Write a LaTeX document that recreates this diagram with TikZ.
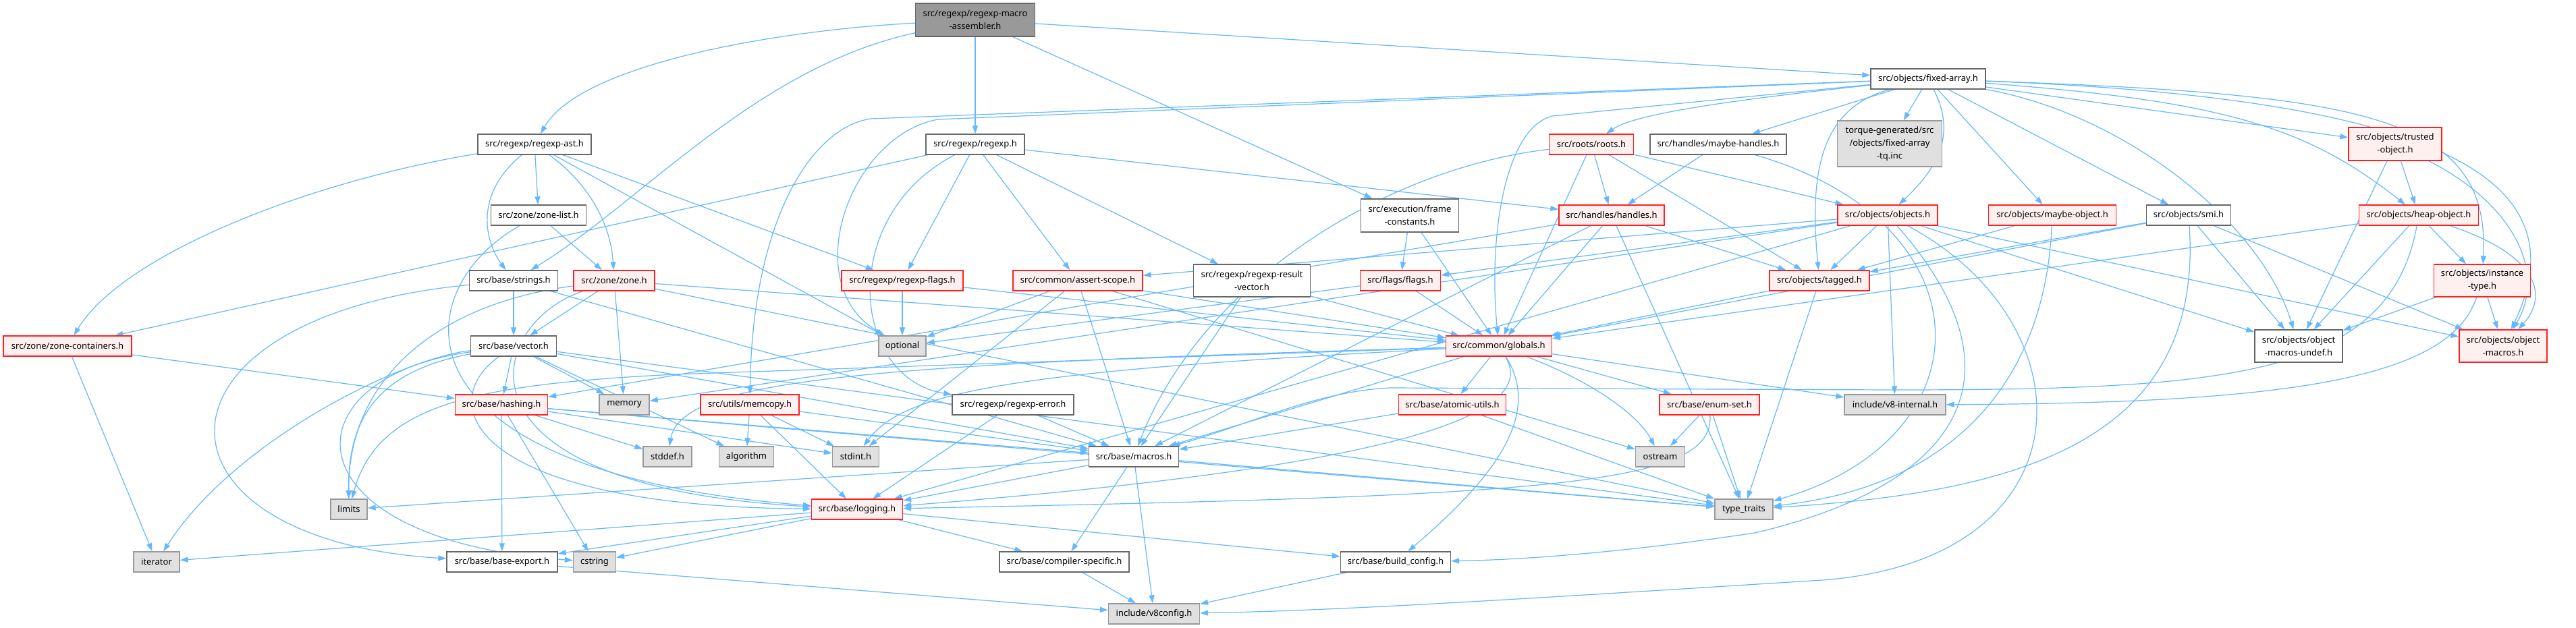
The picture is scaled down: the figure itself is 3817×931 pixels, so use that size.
\documentclass[tikz,border=0pt]{standalone}
\usepackage{fontspec}
\newfontfamily\notos{Noto Sans}
\usetikzlibrary{arrows.meta}
\definecolor{edgeblue}{HTML}{63B8FF}
\definecolor{ndred}{HTML}{FF2020}
\definecolor{ndpink}{HTML}{FFF0F0}
\definecolor{ndgray}{HTML}{666666}
\definecolor{ndgraybd}{HTML}{999999}
\definecolor{ndgrayfill}{HTML}{E0E0E0}
\definecolor{ndroot}{HTML}{999999}
\pgfdeclarelayer{bg}
\pgfdeclarelayer{paper}
\pgfsetlayers{paper,bg,main}
\tikzset{
  nd/.style={draw=ndgray, fill=white, line width=1.3pt, minimum height=30pt, inner sep=0pt, align=center, font={\notos\fontsize{13}{19}\selectfont}},
  redn/.style={nd, draw=ndred, fill=ndpink},
  grayn/.style={nd, draw=ndgraybd, fill=ndgrayfill},
  rootn/.style={nd, draw=ndgray, fill=ndroot},
  edge/.style={draw=edgeblue, line width=1.2pt, -{Triangle[length=12pt,width=8pt]}},
}
\begin{document}
\begin{tikzpicture}[x=1pt,y=1pt]
\begin{pgfonlayer}{paper}
\fill[white] (0,0) rectangle (3817,-931);
\end{pgfonlayer}
\useasboundingbox (0,0) rectangle (3817,-931);
% nodes
\node[rootn, minimum width=177pt, minimum height=49pt] (ma) at (1445,-29.5) {src/regexp/regexp-macro\\-assembler.h};
\node[nd, minimum width=168pt] (ast) at (792,-214) {src/regexp/regexp-ast.h};
\node[nd, minimum width=146pt] (regexp) at (1445,-214) {src/regexp/regexp.h};
\node[nd, minimum width=170pt] (fixed) at (2857,-117) {src/objects/fixed-array.h};
\node[redn, minimum width=125pt] (roots) at (2358,-214) {src/roots/roots.h};
\node[nd, minimum width=202pt] (mh) at (2546,-214) {src/handles/maybe-handles.h};
\node[grayn, minimum width=155pt, minimum height=68pt] (torque) at (2800,-213) {torque-generated/src\\/objects/fixed-array\\-tq.inc};
\node[redn, minimum width=138pt, minimum height=49pt] (trusted) at (3549,-213.5) {src/objects/trusted\\-object.h};
\node[nd, minimum width=141pt] (zonelist) at (798,-319) {src/zone/zone-list.h};
\node[nd, minimum width=145pt, minimum height=49pt] (frame) at (2089,-319.5) {src/execution/frame\\-constants.h};
\node[redn, minimum width=156pt] (handles) at (2388,-319) {src/handles/handles.h};
\node[redn, minimum width=148pt] (objects) at (2797,-319) {src/objects/objects.h};
\node[redn, minimum width=189pt] (maybeobj) at (3041,-319) {src/objects/maybe-object.h};
\node[nd, minimum width=125pt] (smi) at (3243,-319) {src/objects/smi.h};
\node[redn, minimum width=177pt] (heapobj) at (3584,-319) {src/objects/heap-object.h};
\node[nd, minimum width=131pt] (strings) at (761,-416) {src/base/strings.h};
\node[redn, minimum width=120pt] (zone) at (910,-416) {src/zone/zone.h};
\node[redn, minimum width=180pt] (rflags) at (1337,-416) {src/regexp/regexp-flags.h};
\node[redn, minimum width=192pt] (assert) at (1597,-416) {src/common/assert-scope.h};
\node[nd, minimum width=173pt, minimum height=48pt] (resvec) at (1855,-416) {src/regexp/regexp-result\\-vector.h};
\node[redn, minimum width=119pt] (flags) at (2075,-416) {src/flags/flags.h};
\node[redn, minimum width=148pt] (tagged) at (2696,-416) {src/objects/tagged.h};
\node[redn, minimum width=143pt, minimum height=48pt] (insttype) at (3678,-416) {src/objects/instance\\-type.h};
\node[redn, minimum width=190pt] (zonecont) at (100,-513) {src/zone/zone-containers.h};
\node[nd, minimum width=127pt] (vector) at (761,-513) {src/base/vector.h};
\node[grayn, minimum width=70pt] (optional) at (1337,-513) {optional};
\node[redn, minimum width=157pt] (globals) at (2221,-513) {src/common/globals.h};
\node[nd, minimum width=130pt, minimum height=48pt] (objundef) at (3406,-513) {src/objects/object\\-macros-undef.h};
\node[redn, minimum width=130pt, minimum height=48pt] (objmacros) at (3709,-513) {src/objects/object\\-macros.h};
\node[redn, minimum width=137pt] (hashing) at (743,-600) {src/base/hashing.h};
\node[grayn, minimum width=74pt] (memory) at (925,-600) {memory};
\node[redn, minimum width=146pt] (memcopy) at (1111,-600) {src/utils/memcopy.h};
\node[nd, minimum width=180pt] (rerror) at (1501,-600) {src/regexp/regexp-error.h};
\node[redn, minimum width=159pt] (atomic) at (2152,-600) {src/base/atomic-utils.h};
\node[redn, minimum width=148pt] (enumset) at (2533,-600) {src/base/enum-set.h};
\node[grayn, minimum width=150pt] (v8int) at (2808,-600) {include/v8-internal.h};
\node[grayn, minimum width=72pt] (stddef) at (989,-677) {stddef.h};
\node[grayn, minimum width=81pt] (algorithm) at (1106,-677) {algorithm};
\node[grayn, minimum width=69pt] (stdint) at (1268,-677) {stdint.h};
\node[nd, minimum width=133pt] (macros) at (1680,-677) {src/base/macros.h};
\node[grayn, minimum width=73pt] (ostream) at (2460,-677) {ostream};
\node[grayn, minimum width=54pt] (limits) at (517,-755) {limits};
\node[redn, minimum width=135pt] (logging) at (1270,-755) {src/base/logging.h};
\node[grayn, minimum width=86pt] (typetraits) at (2584,-755) {type\_traits};
\node[grayn, minimum width=68pt] (iterator) at (232,-833) {iterator};
\node[nd, minimum width=164pt] (baseexport) at (744,-833) {src/base/base-export.h};
\node[grayn, minimum width=63pt] (cstring) at (881,-833) {cstring};
\node[nd, minimum width=192pt] (compiler) at (1577,-833) {src/base/compiler-specific.h};
\node[nd, minimum width=163pt] (buildconfig) at (2068,-833) {src/base/build\_config.h};
\node[grayn, minimum width=135pt] (v8config) at (1710,-910) {include/v8config.h};
% edges
\begin{pgfonlayer}{bg}
\draw[edge] (ma) .. controls (1150,-45) and (860,-95) .. (ast);
\draw[edge] (ma) .. controls (1120,-100) and (950,-300) .. (strings);
\draw[edge] (ma) -- (regexp);
\draw[edge] (ma) -- (fixed);
\draw[edge] (ma) -- (frame);
\draw[edge] (fixed) -- (1290,-176) .. controls (1200,-190) and (1115,-330) .. (memcopy);
\draw[edge] (fixed) -- (1390,-177) .. controls (1260,-200) and (1180,-420) .. (optional);
\draw[edge] (fixed) -- (2300,-172) .. controls (2230,-190) and (2205,-350) .. (globals);
\draw[edge] (fixed) -- (mh);
\draw[edge] (fixed) .. controls (2550,-150) and (2420,-170) .. (roots);
\draw[edge] (fixed) -- (torque);
\draw[edge] (fixed) .. controls (2700,-160) and (2680,-250) .. (tagged);
\draw[edge] (fixed) .. controls (2900,-200) and (2870,-250) .. (objects);
\draw[edge] (fixed) -- (maybeobj);
\draw[edge] (fixed) -- (smi);
\draw[edge] (fixed) -- (trusted);
\draw[edge] (fixed) .. controls (3300,-150) and (3420,-190) .. (heapobj);
\draw[edge] (fixed) .. controls (3500,-140) and (3690,-170) .. (insttype);
\draw[edge] (fixed) .. controls (3600,-145) and (3830,-260) .. (objmacros);
\draw[edge] (fixed) .. controls (3150,-170) and (3350,-330) .. (objundef);
\draw[edge] (ast) .. controls (450,-270) and (180,-380) .. (zonecont);
\draw[edge] (ast) .. controls (700,-290) and (720,-360) .. (strings);
\draw[edge] (ast) -- (zonelist);
\draw[edge] (ast) .. controls (870,-270) and (905,-330) .. (zone);
\draw[edge] (ast) -- (rflags);
\draw[edge] (ast) -- (optional);
\draw[edge] (regexp) -- (zonecont);
\draw[edge] (regexp) .. controls (1240,-320) and (1260,-560) .. (rerror);
\draw[edge] (regexp) -- (rflags);
\draw[edge] (regexp) -- (assert);
\draw[edge] (regexp) -- (resvec);
\draw[edge] (regexp) -- (handles);
\draw[edge] (zonelist) .. controls (600,-430) and (570,-700) .. (logging);
\draw[edge] (zonelist) -- (zone);
\draw[edge] (strings) .. controls (200,-470) and (200,-800) .. (baseexport);
\draw[edge] (strings) -- (vector);
\draw[edge] (strings) -- (macros);
\draw[edge] (zone) .. controls (650,-450) and (515,-560) .. (limits);
\draw[edge] (zone) -- (memory);
\draw[edge] (zone) -- (typetraits);
\draw[edge] (zone) .. controls (720,-480) and (650,-720) .. (logging);
\draw[edge] (zone) -- (vector);
\draw[edge] (zone) -- (globals);
\draw[edge] (zonecont) -- (hashing);
\draw[edge] (zonecont) -- (iterator);
\draw[edge] (vector) -- (algorithm);
\draw[edge] (vector) .. controls (420,-560) and (420,-800) .. (cstring);
\draw[edge] (vector) .. controls (600,-530) and (350,-650) .. (iterator);
\draw[edge] (vector) .. controls (560,-550) and (515,-620) .. (limits);
\draw[edge] (vector) -- (memory);
\draw[edge] (vector) -- (typetraits);
\draw[edge] (vector) -- (hashing);
\draw[edge] (vector) .. controls (640,-600) and (700,-750) .. (logging);
\draw[edge] (vector) -- (macros);
\draw[edge] (hashing) -- (baseexport);
\draw[edge] (hashing) -- (cstring);
\draw[edge] (hashing) -- (stddef);
\draw[edge] (hashing) -- (stdint);
\draw[edge] (hashing) -- (typetraits);
\draw[edge] (hashing) -- (macros);
\draw[edge] (memcopy) -- (algorithm);
\draw[edge] (memcopy) -- (stdint);
\draw[edge] (memcopy) -- (logging);
\draw[edge] (memcopy) -- (macros);
\draw[edge] (rerror) -- (logging);
\draw[edge] (rerror) -- (macros);
\draw[edge] (assert) -- (optional);
\draw[edge] (assert) -- (stdint);
\draw[edge] (assert) -- (macros);
\draw[edge] (assert) -- (globals);
\draw[edge] (assert) -- (ostream);
\draw[edge] (rflags) -- (optional);
\draw[edge] (rflags) -- (globals);
\draw[edge] (resvec) -- (macros);
\draw[edge] (resvec) -- (globals);
\draw[edge] (flags) -- (optional);
\draw[edge] (flags) -- (globals);
\draw[edge] (frame) -- (flags);
\draw[edge] (frame) -- (globals);
\draw[edge] (roots) .. controls (2050,-250) and (1780,-420) .. (macros);
\draw[edge] (roots) -- (globals);
\draw[edge] (roots) -- (handles);
\draw[edge] (roots) -- (tagged);
\draw[edge] (roots) -- (objects);
\draw[edge] (mh) -- (handles);
\draw[edge] (mh) .. controls (2950,-330) and (2950,-650) .. (typetraits);
\draw[edge] (handles) -- (hashing);
\draw[edge] (handles) -- (globals);
\draw[edge] (handles) -- (macros);
\draw[edge] (handles) -- (typetraits);
\draw[edge] (handles) -- (tagged);
\draw[edge] (objects) -- (memory);
\draw[edge] (objects) -- (v8int);
\draw[edge] (objects) .. controls (3100,-480) and (3100,-830) .. (2700,-860) .. controls (2300,-885) and (2000,-905) .. (v8config);
\draw[edge] (objects) .. controls (3010,-560) and (2900,-720) .. (2600,-790) .. controls (2400,-820) and (2250,-830) .. (buildconfig);
\draw[edge] (objects) -- (logging);
\draw[edge] (objects) -- (assert);
\draw[edge] (objects) -- (flags);
\draw[edge] (objects) -- (tagged);
\draw[edge] (objects) -- (objmacros);
\draw[edge] (objects) -- (objundef);
\draw[edge] (maybeobj) -- (tagged);
\draw[edge] (maybeobj) .. controls (3030,-560) and (2900,-720) .. (typetraits);
\draw[edge] (smi) -- (globals);
\draw[edge] (smi) -- (tagged);
\draw[edge] (smi) .. controls (3265,-650) and (3000,-730) .. (typetraits);
\draw[edge] (smi) -- (objundef);
\draw[edge] (smi) -- (objmacros);
\draw[edge] (heapobj) -- (globals);
\draw[edge] (heapobj) -- (insttype);
\draw[edge] (heapobj) .. controls (3765,-380) and (3775,-440) .. (objmacros);
\draw[edge] (heapobj) -- (objundef);
\draw[edge] (heapobj) .. controls (3540,-560) and (3300,-578) .. (2800,-578) -- (2060,-575) .. controls (1950,-580) and (1850,-630) .. (macros);
\draw[edge] (trusted) -- (heapobj);
\draw[edge] (trusted) -- (objundef);
\draw[edge] (trusted) .. controls (3720,-300) and (3775,-400) .. (objmacros);
\draw[edge] (insttype) -- (objundef);
\draw[edge] (insttype) -- (objmacros);
\draw[edge] (insttype) .. controls (3630,-560) and (3400,-598) .. (v8int);
\draw[edge] (tagged) -- (globals);
\draw[edge] (tagged) -- (typetraits);
\draw[edge] (globals) -- (atomic);
\draw[edge] (globals) -- (enumset);
\draw[edge] (globals) -- (v8int);
\draw[edge] (globals) .. controls (2370,-570) and (2430,-620) .. (ostream);
\draw[edge] (globals) .. controls (2290,-620) and (2200,-720) .. (buildconfig);
\draw[edge] (globals) .. controls (2280,-610) and (2100,-690) .. (logging);
\draw[edge] (globals) -- (macros);
\draw[edge] (globals) -- (1000,-555) .. controls (700,-570) and (560,-600) .. (limits);
\draw[edge] (globals) .. controls (1300,-540) and (1010,-560) .. (stddef);
\draw[edge] (globals) .. controls (1500,-550) and (1340,-580) .. (stdint);
\draw[edge] (atomic) -- (macros);
\draw[edge] (atomic) -- (typetraits);
\draw[edge] (enumset) -- (ostream);
\draw[edge] (enumset) -- (typetraits);
\draw[edge] (enumset) .. controls (2540,-720) and (2300,-735) .. (logging);
\draw[edge] (logging) -- (iterator);
\draw[edge] (logging) -- (cstring);
\draw[edge] (logging) -- (baseexport);
\draw[edge] (logging) -- (compiler);
\draw[edge] (logging) -- (buildconfig);
\draw[edge] (macros) -- (limits);
\draw[edge] (macros) -- (typetraits);
\draw[edge] (macros) -- (v8config);
\draw[edge] (macros) -- (compiler);
\draw[edge] (macros) -- (logging);
\draw[edge] (baseexport) -- (v8config);
\draw[edge] (compiler) -- (v8config);
\draw[edge] (buildconfig) -- (v8config);
\end{pgfonlayer}
\end{tikzpicture}
\end{document}
